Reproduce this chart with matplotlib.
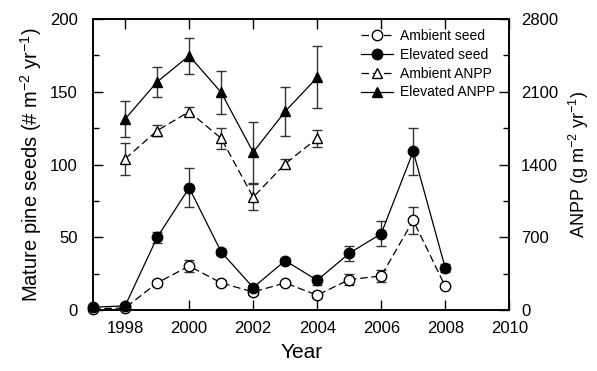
import numpy as np
import matplotlib
matplotlib.use('Agg')
import matplotlib.pyplot as plt
from matplotlib.ticker import MultipleLocator

plt.rcParams['font.family'] = ['Liberation Sans', 'DejaVu Sans']
plt.rcParams['mathtext.fontset'] = 'custom'
plt.rcParams['mathtext.rm'] = 'Liberation Sans'

# seed data (# m-2 yr-1)
seed_years = [1997, 1998, 1999, 2000, 2001, 2002, 2003, 2004, 2005, 2006, 2007, 2008]
amb_seed = [1, 1.5, 18.7, 30.3, 18.7, 12.5, 18.7, 10.3, 21, 23.5, 61.6, 16.4]
amb_seed_err = [0, 0, 2, 4, 2, 2, 1.5, 2, 4, 4, 9, 1]
elev_seed = [2, 3, 50, 84, 40, 15.5, 34, 20.5, 39, 52.5, 109, 29]
elev_seed_err = [0, 1, 4, 13.5, 2, 2, 2, 3, 5, 8.5, 16, 3]

# ANPP data (g m-2 yr-1)
anpp_years = [1998, 1999, 2000, 2001, 2002, 2003, 2004]
amb_anpp = [1455, 1726, 1908, 1652, 1086, 1407, 1652]
amb_anpp_err = [154, 56, 42, 98, 126, 42, 84]
elev_anpp = [1838, 2195, 2446, 2093, 1518, 1911, 2237]
elev_anpp_err = [172, 146, 171, 204, 293, 238, 298]

fig = plt.figure(figsize=(5.97, 3.71), dpi=100)
ax = fig.add_axes([0.156, 0.164, 0.697, 0.785])
ax2 = ax.twinx()

ms = 7.5
ekw = dict(capsize=3.3, elinewidth=1, capthick=1, ecolor='#333333', clip_on=False)
dash = (0, (6, 3))

h1 = ax.errorbar(seed_years, amb_seed, yerr=amb_seed_err, fmt='o', ls=dash, color='black',
                 lw=0.9, mfc='white', mec='black', ms=ms, label='Ambient seed', **ekw)
h2 = ax.errorbar(seed_years, elev_seed, yerr=elev_seed_err, fmt='o', ls='-', color='black',
                 lw=0.9, mfc='black', mec='black', ms=ms, label='Elevated seed', **ekw)
h3 = ax2.errorbar(anpp_years, amb_anpp, yerr=amb_anpp_err, fmt='^', ls=dash, color='black',
                  lw=0.9, mfc='white', mec='black', ms=ms, label='Ambient ANPP', **ekw)
h4 = ax2.errorbar(anpp_years, elev_anpp, yerr=elev_anpp_err, fmt='^', ls='-', color='black',
                  lw=0.9, mfc='black', mec='black', ms=ms, label='Elevated ANPP', **ekw)
# let the 1997 points sit on the spine without clipping
for h in (h1, h2):
    h.lines[0].set_clip_on(False)

ax.set_xlim(1997, 2010)
ax.set_ylim(0, 200)
ax2.set_ylim(0, 2800)
ax.set_xticks([1998, 2000, 2002, 2004, 2006, 2008, 2010])
ax.yaxis.set_major_locator(MultipleLocator(50))
ax.yaxis.set_minor_locator(MultipleLocator(25))
ax2.yaxis.set_major_locator(MultipleLocator(700))
ax2.yaxis.set_minor_locator(MultipleLocator(350))

ax.tick_params(axis='x', direction='in', top=True, length=7, width=1, labelsize=12, pad=8)
ax.tick_params(axis='y', which='major', direction='in', length=7, width=1, labelsize=12, pad=11)
ax.tick_params(axis='y', which='minor', direction='in', length=4, width=1)
ax2.tick_params(axis='y', which='major', direction='in', length=7, width=1, labelsize=12, pad=8.5)
ax2.tick_params(axis='y', which='minor', direction='in', length=4, width=1)
for a in (ax, ax2):
    for s in a.spines.values():
        s.set_linewidth(1.2)

ax.set_xlabel('Year', fontsize=15, labelpad=5)
ax.set_ylabel('Mature pine seeds (# m$^{-2}$ yr$^{-1}$)', fontsize=14.5, labelpad=4)
ax2.set_ylabel('ANPP (g m$^{-2}$ yr$^{-1}$)', fontsize=13, labelpad=6)

# legend shows marker + line only, no error bars
handles = [h[0] for h in (h1, h2, h3, h4)]
labels = ['Ambient seed', 'Elevated seed', 'Ambient ANPP', 'Elevated ANPP']
ax2.legend(handles, labels, loc='upper right', bbox_to_anchor=(0.98, 0.985),
           frameon=False, fontsize=10, handlelength=2.3, labelspacing=0.35,
           handletextpad=0.55, borderaxespad=0)

fig.savefig('out.png', dpi=100)
